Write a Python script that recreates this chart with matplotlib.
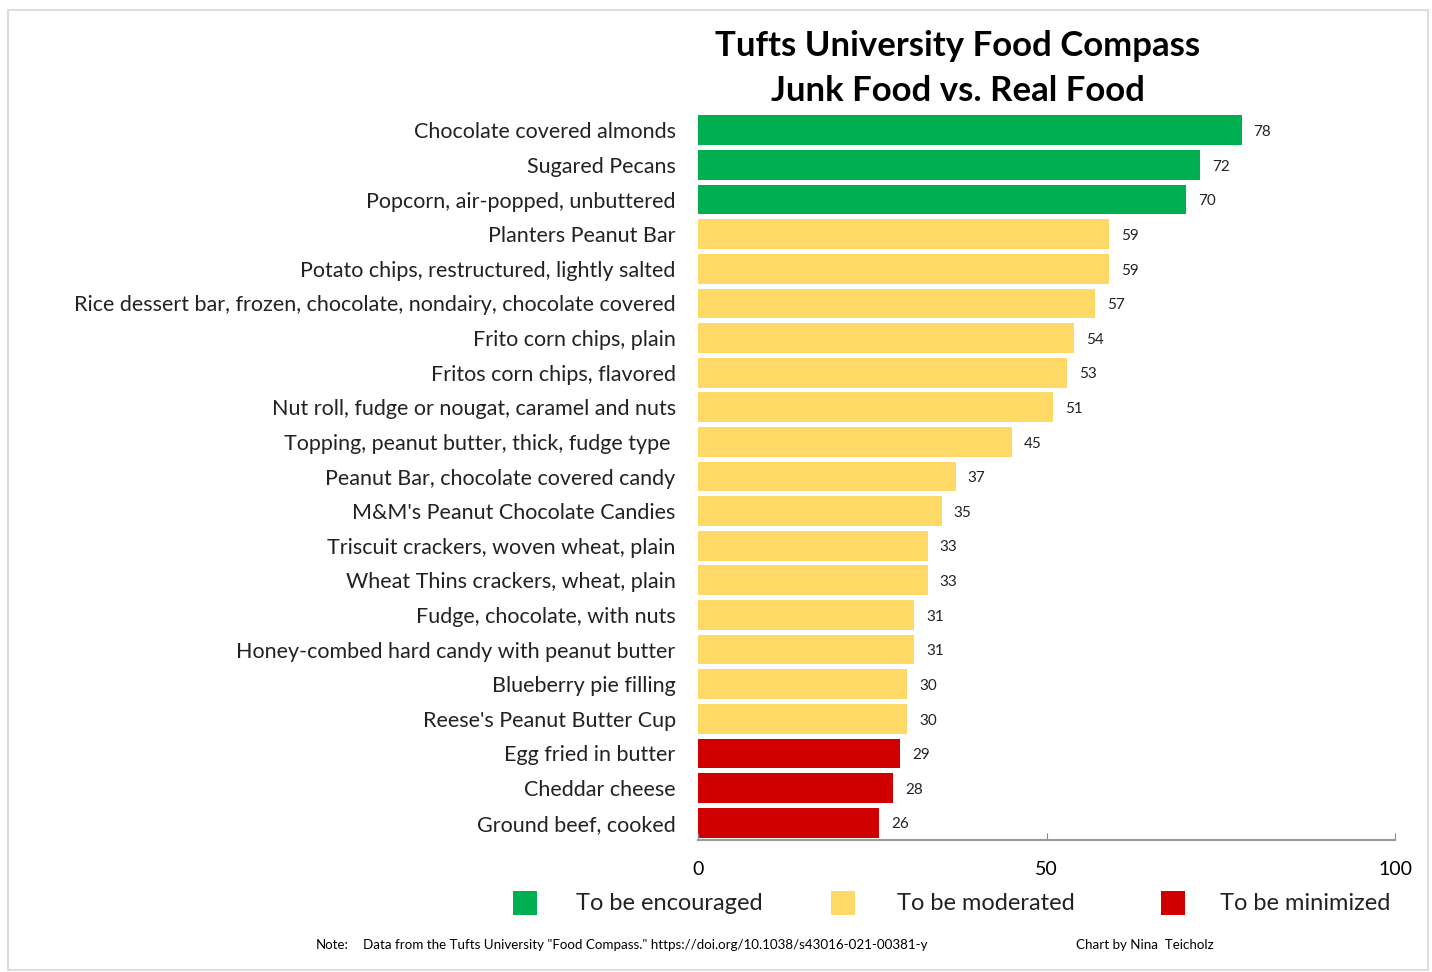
import matplotlib
matplotlib.use("Agg")
import matplotlib.pyplot as plt
import matplotlib.patches as mpatches

# Food Compass scores, top to bottom as shown
foods = [
    "Chocolate covered almonds",
    "Sugared Pecans",
    "Popcorn, air-popped, unbuttered",
    "Planters Peanut Bar",
    "Potato chips, restructured, lightly salted",
    "Rice dessert bar, frozen, chocolate, nondairy, chocolate covered",
    "Frito corn chips, plain",
    "Fritos corn chips, flavored",
    "Nut roll, fudge or nougat, caramel and nuts",
    "Topping, peanut butter, thick, fudge type ",
    "Peanut Bar, chocolate covered candy",
    "M&M's Peanut Chocolate Candies",
    "Triscuit crackers, woven wheat, plain",
    "Wheat Thins crackers, wheat, plain",
    "Fudge, chocolate, with nuts",
    "Honey-combed hard candy with peanut butter",
    "Blueberry pie filling",
    "Reese's Peanut Butter Cup",
    "Egg fried in butter",
    "Cheddar cheese",
    "Ground beef, cooked",
]
scores = [78, 72, 70, 59, 59, 57, 54, 53, 51, 45, 37, 35, 33, 33, 31, 31,
          30, 30, 29, 28, 26]
groups = ["enc"] * 3 + ["mod"] * 15 + ["min"] * 3

group_names = ["To be encouraged", "To be moderated", "To be minimized"]
group_keys = ["enc", "mod", "min"]
group_colors = {"enc": "#00B050", "mod": "#FFD966", "min": "#D00000"}

FONT = "Lato"

fig = plt.figure(figsize=(14.32, 9.72), dpi=100)
ax = fig.add_axes([0.4874, 0.1358, 0.4868, 0.7479])

ypos = list(range(len(foods)))
colors = [group_colors[g] for g in groups]
ax.barh(ypos, scores, height=0.86, color=colors, edgecolor="none")
ax.set_ylim(len(foods) - 0.5, -0.5)
ax.set_xlim(0, 100)

for y, v in zip(ypos, scores):
    ax.text(v + 1.7, y + 0.05, str(v), va="center", ha="left", fontsize=11,
            family=FONT, color="#222222")

ax.set_yticks(ypos)
ax.set_yticklabels(foods, fontsize=15.5, family=FONT, color="#222222")
ax.tick_params(axis="y", length=0, pad=16)

ax.set_xticks([0, 50, 100])
ax.set_xticklabels(["0", "50", "100"], fontsize=14, family=FONT)
ax.tick_params(axis="x", direction="in", length=5, color="#888888",
               pad=15)

for side in ("top", "right", "left"):
    ax.spines[side].set_visible(False)
ax.spines["bottom"].set_color("#999999")
ax.spines["bottom"].set_linewidth(1.5)

# title
fig.text(0.669, 0.953, "Tufts University Food Compass", ha="center",
         va="center", fontsize=25, fontweight="bold", family=FONT)
fig.text(0.669, 0.906, "Junk Food vs. Real Food", ha="center",
         va="center", fontsize=25, fontweight="bold", family=FONT)

# legend drawn by hand to match spacing
sq_x = [513, 831, 1161]
txt_x = [576, 897, 1220]
leg_y = 1 - 903 / 972
for key, name, sx, tx in zip(group_keys, group_names, sq_x, txt_x):
    fig.patches.append(mpatches.Rectangle(
        (sx / 1432, leg_y - 12 / 972), 24 / 1432, 24 / 972,
        transform=fig.transFigure, facecolor=group_colors[key],
        edgecolor="none"))
    fig.text(tx / 1432, leg_y, name, ha="left", va="center", fontsize=17,
             family=FONT, color="#222222")

# footnote
note_y = 1 - 945 / 972
fig.text(316 / 1432, note_y, "Note:", fontsize=9.5, family=FONT,
         va="center")
fig.text(363 / 1432, note_y,
         'Data from the Tufts University "Food Compass." '
         "https://doi.org/10.1038/s43016-021-00381-y",
         fontsize=9.6, family=FONT, va="center")
fig.text(1076 / 1432, note_y, "Chart by Nina  Teicholz", fontsize=9.6,
         family=FONT, va="center")

# light frame around the chart
fig.patches.append(mpatches.Rectangle(
    (8 / 1432, 2 / 972), 1420 / 1432, 960 / 972,
    transform=fig.transFigure, facecolor="none", edgecolor="#DDDDDD",
    linewidth=1.5))

fig.savefig("out.png", dpi=100)
